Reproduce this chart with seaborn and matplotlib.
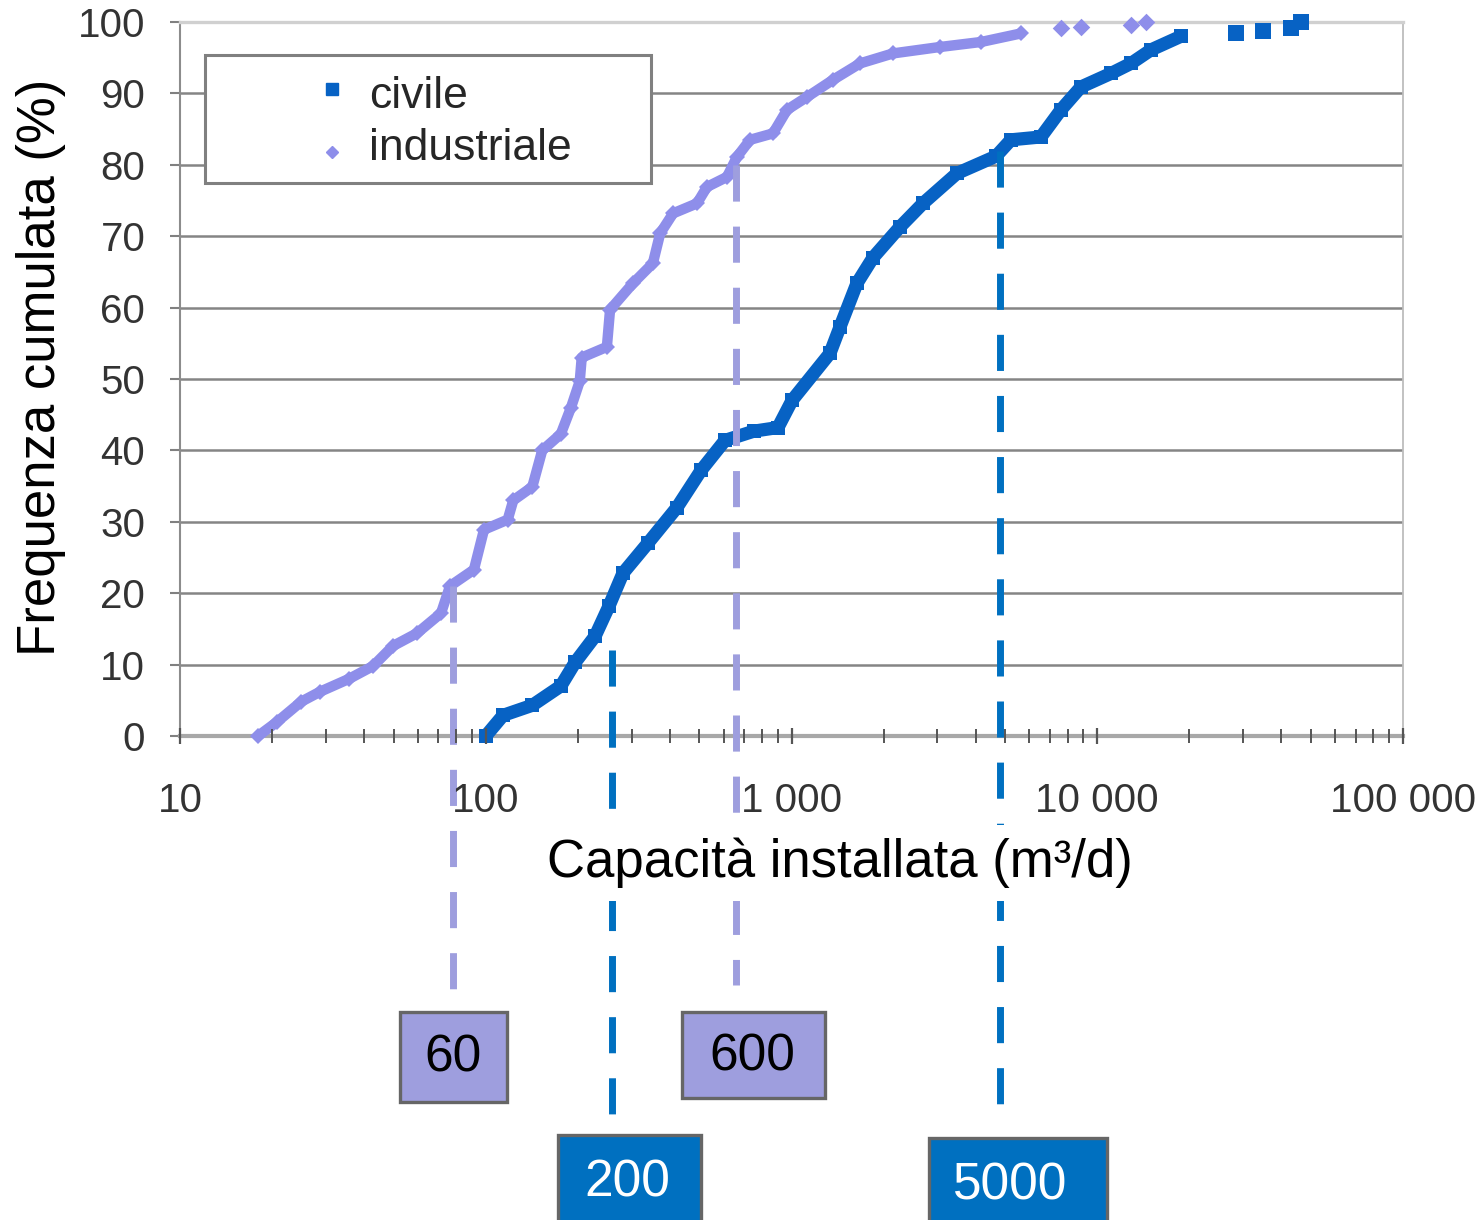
import matplotlib
matplotlib.use("Agg")
import matplotlib.pyplot as plt
import matplotlib.ticker as mticker
from matplotlib.patches import Rectangle
import numpy as np
import pandas as pd
import seaborn as sns

# ---------------- data ----------------
civile_capacity = [100, 114, 142, 176, 196, 228, 253, 281, 339, 422,
                   506, 606, 754, 903, 1004, 1336, 1441, 1637, 1848, 2264,
                   2692, 3478, 4665, 5223, 6546, 7609, 8847, 11091, 12894, 14993,
                   18786]
civile_freq = [0, 2.9, 4.3, 7.0, 10.3, 14.0, 18.2, 22.8, 27.0, 32.0,
               37.2, 41.4, 42.7, 43.2, 47.0, 53.6, 57.3, 63.4, 67.0, 71.3,
               74.6, 78.8, 81.2, 83.5, 83.9, 87.7, 90.9, 92.8, 94.2, 96.1,
               98.0]
civile_tail_capacity = [28431, 34841, 43020, 46390]
civile_tail_freq = [98.4, 98.7, 99.2, 100.0]

ind_capacity = [18, 20.8, 24.9, 28.7, 35.7, 42.8, 49.7, 59.6, 71.4, 76.4,
                91.5, 98.7, 118, 123, 142, 153, 176, 190, 203, 206,
                249, 255, 303, 352, 372, 410, 491, 529, 615, 663,
                732, 870, 967, 1124, 1367, 1675, 2148, 3060, 4167, 5630]
ind_freq = [0, 2, 4.8, 6.2, 8, 9.8, 12.6, 14.4, 17.2, 21,
            23.3, 28.9, 30.3, 33, 34.9, 40, 42.3, 46, 49.7, 53,
            54.5, 59.7, 63.4, 66.2, 70.4, 73.2, 74.6, 76.9, 78.3, 81.1,
            83.5, 84.4, 87.7, 89.5, 91.9, 94.2, 95.6, 96.5, 97.2, 98.4]
ind_tail_capacity = [7609, 8847, 12894, 14436]
ind_tail_freq = [99.1, 99.3, 99.6, 100.0]

series_names = ["civile", "industriale"]

# threshold markers (dashed lines + labelled boxes)
thr_labels = ["60", "200", "600", "5000"]
thr_x = [78, 259, 658, 4810]
thr_top = [21, 12, 80, 82]
thr_series = ["industriale", "civile", "industriale", "civile"]

ytick_values = [0, 10, 20, 30, 40, 50, 60, 70, 80, 90, 100]
xtick_values = [10, 100, 1000, 10000, 100000]
xtick_labels = ["10", "100", "1 000", "10 000", "100 000"]

# ---------------- style ----------------
CIV = "#0762C4"
IND = "#8E8EEA"
CIV_DASH = "#0070C0"
IND_DASH = "#9E9EDE"
BOX_FILL = {"civile": "#0070C0", "industriale": "#9E9EDE"}
BOX_TEXT = {"civile": "white", "industriale": "black"}
DASH_COL = {"civile": CIV_DASH, "industriale": IND_DASH}

sns.set_theme(style="white")
plt.rcParams["font.family"] = ["Liberation Sans", "DejaVu Sans"]

W, H = 1482, 1220
fig = plt.figure(figsize=(W / 100, H / 100), dpi=100)
AX_L, AX_R, AX_T, AX_B = 180, 1403, 22, 736
ax = fig.add_axes([AX_L / W, 1 - AX_B / H, (AX_R - AX_L) / W, (AX_B - AX_T) / H])

df_civ = pd.DataFrame({"capacity": civile_capacity, "freq": civile_freq})
df_ind = pd.DataFrame({"capacity": ind_capacity, "freq": ind_freq})

sns.lineplot(data=df_ind, x="capacity", y="freq", ax=ax, color=IND, lw=7.5,
             marker="D", markersize=8, markeredgewidth=0, estimator=None,
             sort=False, clip_on=False, zorder=3)
sns.lineplot(data=df_civ, x="capacity", y="freq", ax=ax, color=CIV, lw=9.5,
             marker="s", markersize=10, markeredgewidth=0, estimator=None,
             sort=False, clip_on=False, zorder=3)
sns.scatterplot(x=ind_tail_capacity, y=ind_tail_freq, ax=ax, color=IND,
                marker="D", s=80, linewidth=0, clip_on=False, zorder=3)
sns.scatterplot(x=civile_tail_capacity, y=civile_tail_freq, ax=ax, color=CIV,
                marker="s", s=130, linewidth=0, clip_on=False, zorder=3)

ax.set_xscale("log")
ax.set_xlim(10, 100000)
ax.set_ylim(0, 100)

# dashed threshold lines, extending below the axes
px_per_unit = (AX_B - AX_T) / 100.0
line_bottom_px = [995, 1118, 985, 1110]
for xv, top, ser, bpx in zip(thr_x, thr_top, thr_series, line_bottom_px):
    ybot = (AX_B - bpx) / px_per_unit
    ax.plot([xv, xv], [top, ybot], color=DASH_COL[ser], lw=5,
            linestyle=(0, (5.2, 3.6)), clip_on=False, zorder=4,
            solid_capstyle="butt", dash_capstyle="butt")

# ticks
ax.set_yticks(ytick_values)
ax.set_yticklabels([str(v) for v in ytick_values])
ax.set_xticks(xtick_values)
ax.set_xticklabels(xtick_labels)
ax.xaxis.set_minor_locator(mticker.LogLocator(base=10, subs=np.arange(2, 10), numticks=100))
ax.xaxis.set_minor_formatter(mticker.NullFormatter())

ax.tick_params(axis="y", which="major", direction="out", length=7, width=1.5,
               color="#808080", pad=18, labelsize=29, labelcolor="#333333", left=True)
ax.tick_params(axis="x", which="major", direction="inout", length=12, width=1.6,
               color="#555555", pad=27, labelsize=29, labelcolor="#333333", bottom=True)
ax.tick_params(axis="x", which="minor", direction="inout", length=10, width=1.4,
               color="#555555", bottom=True)

ax.set_axisbelow(True)
ax.yaxis.grid(True, color="#858585", lw=1.8)
ax.xaxis.grid(False)
gl = ax.get_ygridlines()
gl[0].set_visible(False)
gl[-1].set_visible(False)

ax.spines["bottom"].set_color("#a8a8a8")
ax.spines["bottom"].set_linewidth(3)
ax.spines["top"].set_color("#d0d0d0")
ax.spines["top"].set_linewidth(2.4)
ax.spines["left"].set_color("#8c8c8c")
ax.spines["left"].set_linewidth(1.5)
ax.spines["right"].set_color("#bdbdbd")
ax.spines["right"].set_linewidth(1.3)

# axis labels (x label has a white backing that hides the dashed lines)
ax.set_xlabel("Capacità installata (m³/d)", fontsize=38, color="black",
              bbox=dict(facecolor="white", edgecolor="none", pad=9))
ax.set_ylabel("Frequenza cumulata (%)", fontsize=38, color="black")
axw, axh = AX_R - AX_L, AX_B - AX_T
ax.xaxis.set_label_coords((840 - AX_L) / axw, (AX_B - 838) / axh)
ax.yaxis.set_label_coords((66 - AX_L) / axw, (AX_B - 367) / axh)
ax.xaxis.set_zorder(5)

# manual legend
def axc(px, py):
    return (px - AX_L) / axw, (AX_B - py) / axh

lx0, ly0 = axc(205, 183)
lx1, ly1 = axc(651, 55)
ax.add_patch(Rectangle((lx0, ly0), lx1 - lx0, ly1 - ly0, transform=ax.transAxes,
                       facecolor="white", edgecolor="#808080", lw=2.2,
                       zorder=6, clip_on=False))
mx, my1 = axc(332, 89)
_, my2 = axc(333, 152)
ax.plot([mx], [my1], transform=ax.transAxes, marker="s", ms=8, color=CIV,
        ls="none", zorder=7, clip_on=False)
ax.plot([mx], [my2], transform=ax.transAxes, marker="D", ms=6, color=IND,
        ls="none", zorder=7, clip_on=False)
tx, ty1 = axc(369, 108)
_, ty2 = axc(369, 160)
ax.text(tx, ty1, series_names[0], transform=ax.transAxes, fontsize=32,
        va="baseline", ha="left", zorder=7)
ax.text(tx, ty2, series_names[1], transform=ax.transAxes, fontsize=32,
        va="baseline", ha="left", zorder=7)

# labelled boxes under the chart
box_px = [(400, 1012, 507, 1102), (558, 1135, 701, 1245),
          (682, 1012, 825, 1098), (929, 1138, 1107, 1245)]
text_px = [(453, 1058), (627, 1183), (752, 1057), (1010, 1186)]
for lab, ser, (x0, y0, x1, y1), (tx_, ty_) in zip(thr_labels, thr_series, box_px, text_px):
    fig.patches.append(Rectangle((x0 / W, 1 - y1 / H), (x1 - x0) / W, (y1 - y0) / H,
                                 transform=fig.transFigure, facecolor=BOX_FILL[ser],
                                 edgecolor="#666666", lw=2.4, zorder=5))
    fig.text(tx_ / W, 1 - ty_ / H, lab, fontsize=37, color=BOX_TEXT[ser],
             ha="center", va="center", zorder=6)

fig.savefig("out.png", dpi=100)
